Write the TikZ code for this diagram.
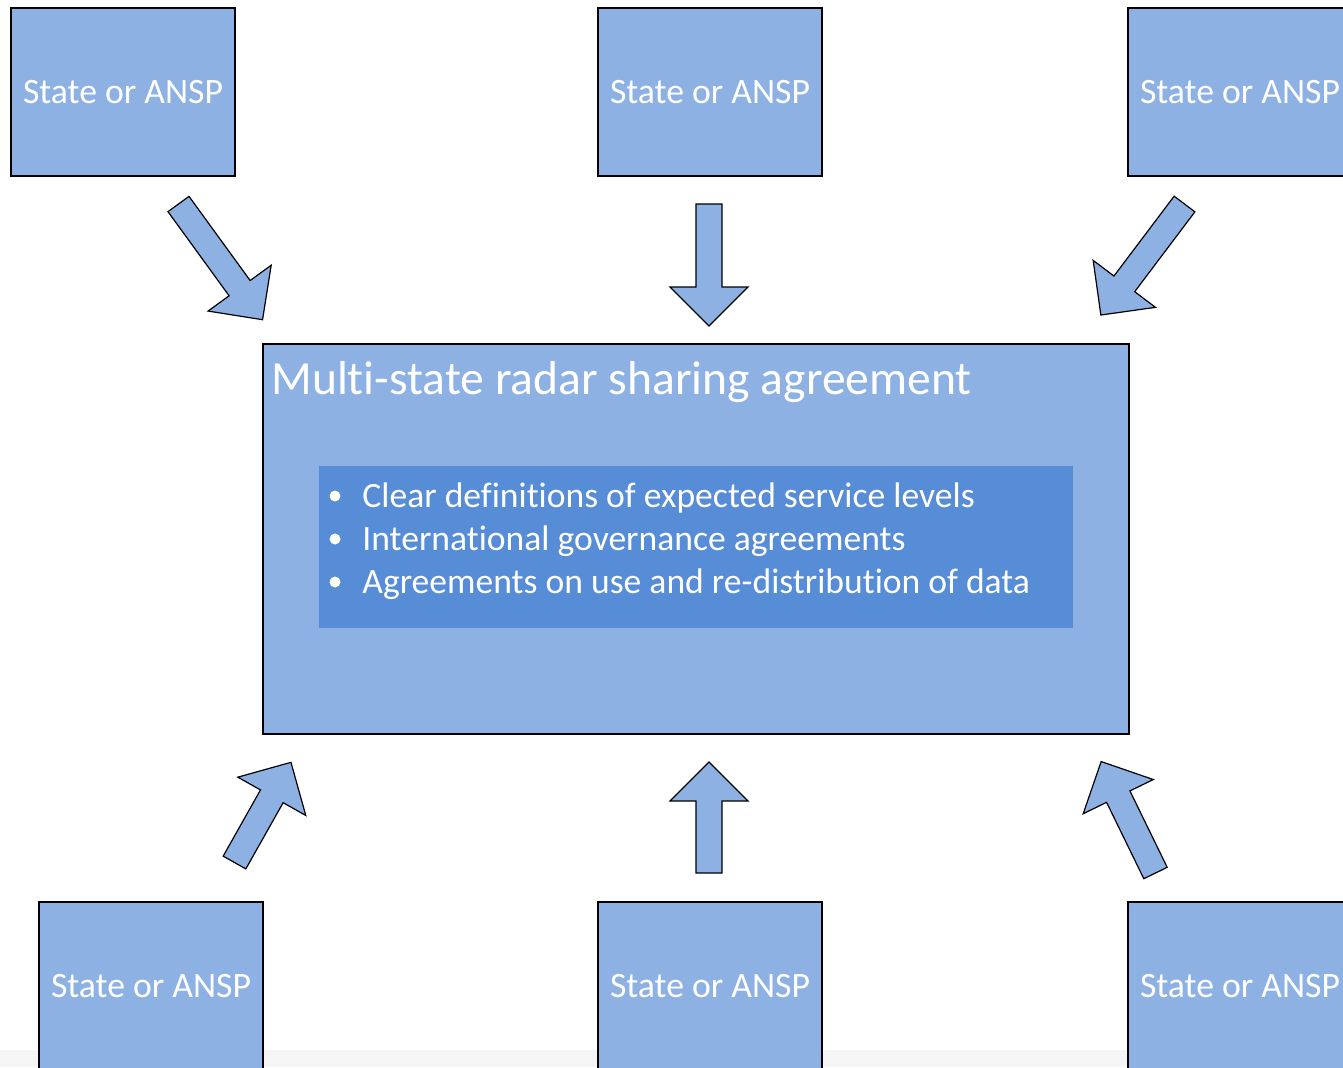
\documentclass[tikz,border=0pt]{standalone}
\usepackage{fontspec}
\setmainfont[Ligatures=NoCommon]{Carlito}
\definecolor{boxblue}{HTML}{8EB1E3}
\definecolor{innerblue}{HTML}{578CD6}
\definecolor{stripgray}{HTML}{F5F5F5}

\begin{document}
\begin{tikzpicture}[
    x=0.5pt, y=-0.5pt,
    party/.style={rectangle, draw=black, line width=0.6pt, fill=boxblue, minimum width=112pt, minimum height=84pt, inner sep=0pt, text=white, font=\fontsize{17.85}{20}\selectfont},
    agreement/.style={rectangle, draw=black, line width=0.6pt, fill=boxblue, minimum width=433pt, minimum height=195pt, inner sep=0pt},
    terms/.style={rectangle, fill=innerblue, minimum width=377pt, minimum height=81pt, inner sep=0pt},
    heading/.style={anchor=base west, inner sep=0pt, text=white, font=\fontsize{23.8}{28}\selectfont},
    bullettext/.style={anchor=base west, inner sep=0pt, text=white, font=\fontsize{17.8}{20}\selectfont},
    bulletdot/.style={circle, fill=white, minimum size=5.5pt, inner sep=0pt},
    arrowbody/.style={draw=black, line width=0.6pt, fill=boxblue, line join=miter},
    pics/fatarrow/.style={code={
        \draw[arrowbody] (0,-13) -- ({#1-39},-13) -- ({#1-39},-39) -- (#1,0) -- ({#1-39},39) -- ({#1-39},13) -- (0,13) -- cycle;
    }}
]

\useasboundingbox (0,0) rectangle (1343,1067);
\clip (0,0) rectangle (1343,1067);

% page strip at the bottom
\fill[stripgray] (0,1050) rectangle (1343,1067);

% the six parties
\node[party] (tl) at (123,92) {State or ANSP};
\node[party] (tm) at (710,92) {State or ANSP};
\node[party] (tr) at (1240,92) {State or ANSP};
\node[party] (bl) at (151,986) {State or ANSP};
\node[party] (bm) at (710,986) {State or ANSP};
\node[party] (br) at (1240,986) {State or ANSP};

% the agreement
\node[agreement] (main) at (696,539) {};
\node[heading] (title) at (271,394) {Multi-state radar sharing agreement};
\node[terms] (terms) at (696,547) {};

\node[bulletdot] (d1) at (335,496) {};
\node[bulletdot] (d2) at (335,539) {};
\node[bulletdot] (d3) at (335,582) {};
\node[bullettext] (t1) at (362,507) {Clear definitions of expected service levels};
\node[bullettext] (t2) at (362,550) {International governance agreements};
\node[bullettext] (t3) at (362,593) {Agreements on use and re-distribution of data};

% block arrows into the agreement
\pic[rotate=-54] at (178.5,204) {fatarrow=143};
\pic[rotate=-90] at (709,204) {fatarrow=122};
\pic[rotate=-127] at (1184.5,204) {fatarrow=139};
\pic[rotate=60.6] at (234.5,862.5) {fatarrow=115};
\pic[rotate=90] at (709,873) {fatarrow=111};
\pic[rotate=116] at (1155.5,873) {fatarrow=124};

\end{tikzpicture}
\end{document}
